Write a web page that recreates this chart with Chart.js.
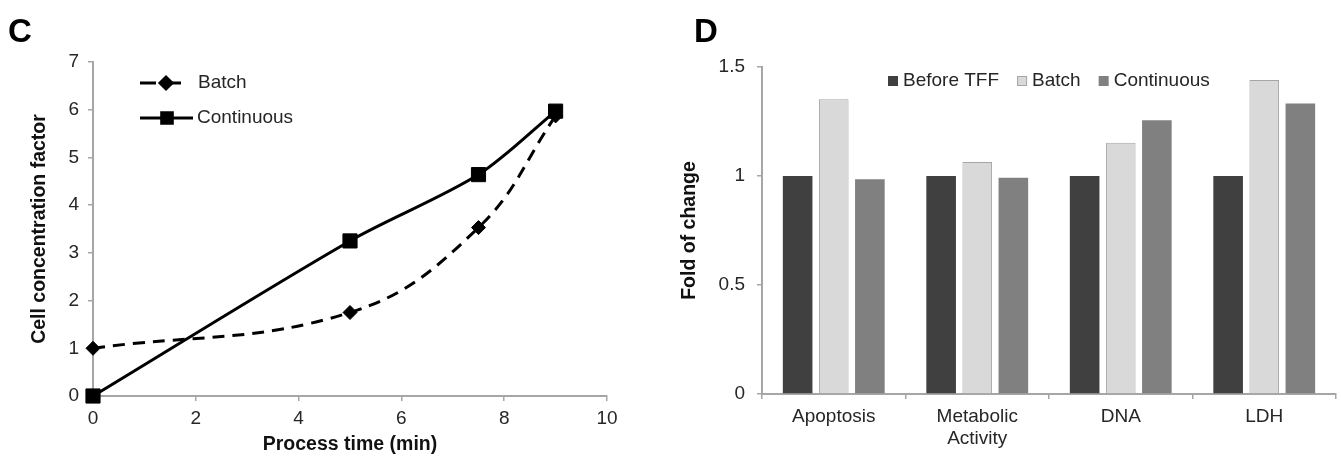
<!DOCTYPE html>
<html>
<head>
<meta charset="utf-8">
<title>TFF charts</title>
<script src="https://cdn.jsdelivr.net/npm/chart.js@4.4.1/dist/chart.umd.min.js"></script>
<style>
  body { margin: 0; background: #fff; width: 1341px; height: 456px; overflow: hidden; position: relative;
         font-family: "Liberation Sans", Arial, sans-serif; }
  .panel { position: absolute; top: 0; height: 456px; }
  #boxC { left: 0; width: 660px; }
  #boxD { left: 660px; width: 681px; }
  .tag { position: absolute; font-weight: bold; font-size: 33px; line-height: 1; color: #000; }
</style>
</head>
<body>
<div class="panel" id="boxC"><canvas id="chartC"></canvas></div>
<div class="panel" id="boxD"><canvas id="chartD"></canvas></div>
<div class="tag" style="left:8px;top:14px">C</div>
<div class="tag" style="left:694px;top:14px">D</div>
<script>
// panel C data
var timeMin = [0, 5, 7.5, 9];
var batchFactor = [1, 1.75, 3.53, 5.87];
var continuousFactor = [0, 3.25, 4.64, 5.97];

// panel D data
var assays = [['Apoptosis'], ['Metabolic', 'Activity'], ['DNA'], ['LDH']];
var beforeTFF = [1, 1, 1, 1];
var batchFold = [1.352, 1.064, 1.153, 1.44];
var continuousFold = [0.985, 0.992, 1.256, 1.332];

var FONT = '"Liberation Sans", Arial, sans-serif';
var AXIS = '#a6a6a6';
var TEXT = '#262626';

Chart.defaults.font.family = FONT;
Chart.defaults.font.size = 19;
Chart.defaults.color = TEXT;

function pairs(xs, ys) {
    return xs.map(function(x, i){ return {x: x, y: ys[i]}; });
}

function fixSize(w, h) {
    return function(scale) {
        if (w !== null) scale.width = w;
        if (h !== null) scale.height = h;
    };
}

// legend drawn inside the plot
var insideLegend = {
    id: 'insideLegend',
    afterDraw: function(chart, args, opts) {
        var ctx = chart.ctx;
        ctx.save();
        ctx.font = '19px ' + FONT;
        ctx.textBaseline = 'middle';
        if (opts.kind === 'line') {
            opts.rows.forEach(function(r, i){
                var ds = chart.data.datasets[i];
                ctx.strokeStyle = ds.borderColor;
                ctx.fillStyle = ds.backgroundColor;
                ctx.lineWidth = ds.borderWidth;
                ctx.setLineDash(r.dash || []);
                ctx.beginPath();
                ctx.moveTo(r.x1, r.y);
                ctx.lineTo(r.x2, r.y);
                ctx.stroke();
                ctx.setLineDash([]);
                Chart.helpers.drawPoint(ctx, {pointStyle: ds.pointStyle, radius: r.radius, rotation: 0, borderWidth: 1}, r.px, r.y);
                ctx.fillStyle = TEXT;
                ctx.fillText(ds.label, r.tx, r.y);
            });
        } else {
            var x = opts.x;
            chart.data.datasets.forEach(function(ds){
                ctx.fillStyle = ds.backgroundColor;
                ctx.fillRect(x, opts.y - 5, 10, 10);
                if (ds.borderWidth) {
                    ctx.strokeStyle = ds.borderColor;
                    ctx.lineWidth = 1;
                    ctx.strokeRect(x + 0.5, opts.y - 4.5, 9, 9);
                }
                ctx.fillStyle = TEXT;
                ctx.fillText(ds.label, x + 15, opts.y);
                x += 15 + ctx.measureText(ds.label).width + 18;
            });
        }
        ctx.restore();
    }
};

new Chart(document.getElementById('chartC'), {
    type: 'line',
    data: {
        datasets: [{
            label: 'Batch',
            data: pairs(timeMin, batchFactor),
            borderColor: '#000',
            backgroundColor: '#000',
            borderWidth: 3,
            borderDash: [12, 8],
            tension: 0.4,
            pointStyle: 'rectRot',
            pointRadius: 7,
            pointBorderWidth: 1,
            clip: false
        }, {
            label: 'Continuous',
            data: pairs(timeMin, continuousFactor),
            borderColor: '#000',
            backgroundColor: '#000',
            borderWidth: 3,
            tension: 0.3,
            pointStyle: 'rect',
            pointRadius: 10,
            pointBorderWidth: 1,
            clip: false
        }]
    },
    options: {
        responsive: true,
        maintainAspectRatio: false,
        animation: false,
        layout: { padding: { top: 62, right: 53, bottom: 0, left: 0 } },
        plugins: {
            legend: { display: false },
            tooltip: { enabled: false },
            insideLegend: {
                kind: 'line',
                rows: [
                    { y: 83, x1: 140, x2: 181, px: 166, radius: 6, tx: 198, dash: [16, 9] },
                    { y: 118, x1: 140, x2: 193, px: 167, radius: 7.5, tx: 197 }
                ]
            }
        },
        scales: {
            x: {
                type: 'linear', min: 0, max: 10,
                ticks: { stepSize: 2, padding: 6 },
                grid: { drawOnChartArea: false, tickLength: 5, color: AXIS, lineWidth: 1.5 },
                border: { color: AXIS, width: 2 },
                title: { display: true, text: 'Process time (min)', color: '#111',
                         font: { size: 19.5, weight: 'bold' }, padding: { top: 5, bottom: 0 } },
                afterFit: fixSize(null, 60)
            },
            y: {
                min: 0, max: 7,
                ticks: { stepSize: 1, padding: 9 },
                grid: { drawOnChartArea: false, tickLength: 5, color: AXIS, lineWidth: 1.5 },
                border: { color: AXIS, width: 2 },
                title: { display: true, text: 'Cell concentration factor', color: '#111',
                         font: { size: 19.5, weight: 'bold' }, padding: { top: 28, bottom: 0 } },
                afterFit: fixSize(93, null)
            }
        }
    },
    plugins: [insideLegend]
});

new Chart(document.getElementById('chartD'), {
    type: 'bar',
    data: {
        labels: assays,
        datasets: [{
            label: 'Before TFF',
            data: beforeTFF,
            backgroundColor: '#404040',
            borderWidth: 0
        }, {
            label: 'Batch',
            data: batchFold,
            backgroundColor: '#d9d9d9',
            borderColor: '#a6a6a6',
            borderWidth: 1
        }, {
            label: 'Continuous',
            data: continuousFold,
            backgroundColor: '#808080',
            borderWidth: 0
        }]
    },
    options: {
        responsive: true,
        maintainAspectRatio: false,
        animation: false,
        categoryPercentage: 0.755,
        barPercentage: 0.82,
        layout: { padding: { top: 67, right: 5, bottom: 0, left: 0 } },
        plugins: {
            legend: { display: false },
            tooltip: { enabled: false },
            insideLegend: { kind: 'bar', x: 228, y: 81 }
        },
        scales: {
            x: {
                ticks: { padding: 6 },
                grid: { drawOnChartArea: false, tickLength: 5, color: AXIS, lineWidth: 1.5 },
                border: { color: AXIS, width: 2 },
                afterFit: fixSize(null, 62)
            },
            y: {
                min: 0, max: 1.5,
                ticks: { stepSize: 0.5, padding: 12, callback: function(v){ return String(v); } },
                grid: { drawOnChartArea: false, tickLength: 5, color: AXIS, lineWidth: 1.5 },
                border: { color: AXIS, width: 2 },
                title: { display: true, text: 'Fold of change', color: '#111',
                         font: { size: 19.5, weight: 'bold' }, padding: { top: 18, bottom: 0 } },
                afterFit: fixSize(102, null)
            }
        }
    },
    plugins: [insideLegend]
});
</script>
</body>
</html>
